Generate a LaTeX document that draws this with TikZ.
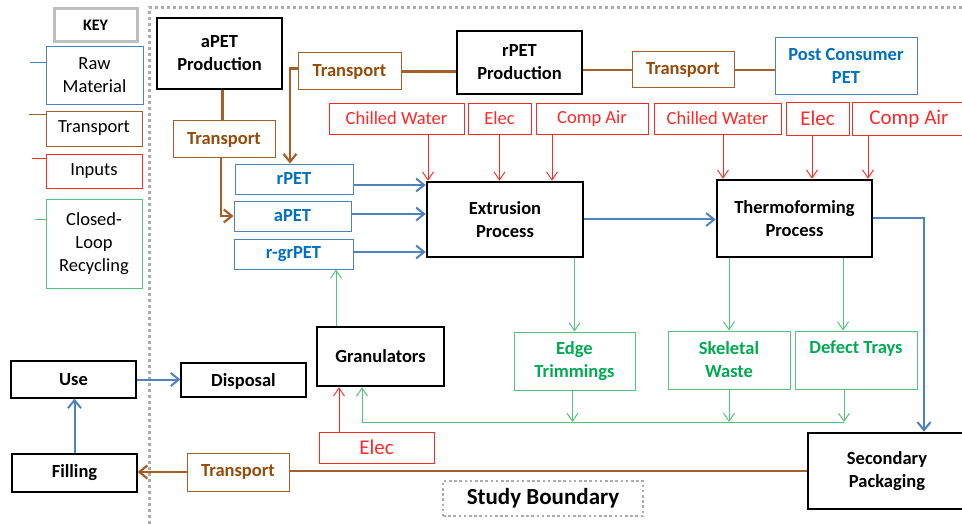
\documentclass[tikz,border=0pt]{standalone}
\usepackage{fontspec}
\setmainfont{Carlito}
\usetikzlibrary{arrows.meta}

\definecolor{rawblue}{RGB}{79,129,189}
\definecolor{rawtext}{RGB}{0,112,192}
\definecolor{trbrown}{RGB}{165,95,40}
\definecolor{trtext}{RGB}{150,75,10}
\definecolor{inred}{RGB}{255,40,40}
\definecolor{clgreen}{RGB}{85,195,125}
\definecolor{cltext}{RGB}{0,170,80}

\tikzset{
  flowbox/.style={draw, rectangle, align=center, inner sep=1pt},
  keybox/.style={flowbox, line width=0.9pt},
  rawbox/.style={flowbox, draw=rawblue, text=rawtext, font=\bfseries, line width=0.9pt},
  trbox/.style={flowbox, draw=trbrown, text=trtext, font=\bfseries, line width=1pt},
  inbox/.style={flowbox, draw=inred, text=inred, line width=0.9pt},
  clbox/.style={flowbox, draw=clgreen, text=cltext, font=\bfseries, line width=0.9pt},
  prodbox/.style={flowbox, font=\bfseries, line width=1.2pt},
  procbox/.style={flowbox, font=\bfseries, line width=2.6pt},
  rawarrow/.style={draw=rawblue, line width=2pt, -{Straight Barb[length=8pt,width=13pt]}},
  trlink/.style={draw=trbrown, line width=2.2pt},
  trarrow/.style={trlink, -{Straight Barb[length=8pt,width=13pt]}},
  inarrow/.style={draw=inred, line width=0.9pt, -{Straight Barb[length=8pt,width=11pt]}},
  clarrow/.style={draw=clgreen, line width=1pt, -{Straight Barb[length=8pt,width=11pt]}},
}

\begin{document}
\begin{tikzpicture}[x=1pt, y=-1pt]
  \useasboundingbox (0,0) rectangle (962,524);
  {\fontsize{18.5}{23}\selectfont

  % Study boundary
  \draw [gray!65, line width=3pt, dash pattern=on 3pt off 3pt] (149,524) -- (149,8) -- (962,8);%
  \node (study) at (543,498.5) [flowbox, draw=gray!65, line width=2.6pt, dash pattern=on 2.6pt off 2.6pt,
    font=\bfseries\fontsize{23}{26}\selectfont, minimum width=200pt, minimum height=35pt] {Study Boundary};%

  % Key
  \node (key) at (95.5,25.5) [flowbox, draw=gray!50, line width=3pt, font=\bfseries\fontsize{16}{18}\selectfont,
    minimum width=83pt, minimum height=33pt] {KEY};%
  \node (keyraw) at (94.5,75) [keybox, draw=rawblue, minimum width=97pt, minimum height=58pt] {Raw\\Material};%
  \node (keytr) at (94,128.5) [keybox, draw=trbrown, minimum width=96pt, minimum height=35pt] {Transport};%
  \node (keyin) at (94,171) [keybox, draw=inred, minimum width=96pt, minimum height=34pt] {Inputs};%
  \node (keycl) at (94,243.5) [keybox, draw=clgreen, minimum width=96pt, minimum height=89pt] {Closed-\\Loop\\Recycling};%
  \draw [rawblue, line width=0.9pt] ([yshift=13pt]keyraw.west) -- ++(-16,0);%
  \draw [trbrown, line width=0.9pt] ([yshift=14.5pt]keytr.west) -- ++(-17,0);%
  \draw [inred, line width=0.9pt] ([yshift=13pt]keyin.west) -- ++(-14,0);%
  \draw [clgreen, line width=0.9pt] ([yshift=24.5pt]keycl.west) -- ++(-11,0);%

  % Production and transport of the raw material
  \node (aprod) at (219.5,53.5) [prodbox, minimum width=125pt, minimum height=71pt] {aPET\\Production};%
  \node (trA) at (224,139.5) [trbox, minimum width=102pt, minimum height=37pt] {Transport};%
  \node (trB) at (349.5,71.5) [trbox, minimum width=103pt, minimum height=37pt] {Transport};%
  \node (rprod) at (519.5,62.5) [prodbox, minimum width=125pt, minimum height=63pt] {rPET\\Production};%
  \node (trC) at (683,70) [trbox, minimum width=102pt, minimum height=36pt] {Transport};%
  \node (pcpet) at (846,65.5) [rawbox, minimum width=142pt, minimum height=57pt] {Post Consumer\\PET};%

  % Raw material feeds
  \node (rpet) at (294,179) [rawbox, minimum width=118pt, minimum height=30pt] {rPET};%
  \node (apet) at (292.5,216) [rawbox, minimum width=117pt, minimum height=30pt] {aPET};%
  \node (rgpet) at (293.5,254) [rawbox, minimum width=119pt, minimum height=30pt] {r-grPET};%

  % Inputs
  \node (cwA) at (396.5,118.5) [inbox, minimum width=135pt, minimum height=31pt] {Chilled Water};%
  \node (elA) at (499.5,118.5) [inbox, minimum width=63pt, minimum height=31pt] {Elec};%
  \node (caA) at (592,118.5) [inbox, minimum width=112pt, minimum height=31pt] {Comp Air};%
  \node (cwB) at (717.5,118.5) [inbox, minimum width=127pt, minimum height=31pt] {Chilled Water};%
  \node (elB) at (817.5,118.5) [inbox, minimum width=63pt, minimum height=33pt, font=\fontsize{21}{24}\selectfont] {Elec};%
  \node (caB) at (909,118.5) [inbox, minimum width=114pt, minimum height=33pt, font=\fontsize{21}{24}\selectfont] {Comp Air};%
  \node (elC) at (376.5,447.5) [inbox, minimum width=115pt, minimum height=31pt, font=\fontsize{21}{24}\selectfont] {Elec};%

  % Processes
  \node (extr) at (505,219.5) [procbox, minimum width=156pt, minimum height=75pt] {Extrusion\\Process};%
  \node (thermo) at (794.5,218.5) [procbox, minimum width=155pt, minimum height=77pt] {Thermoforming\\Process};%
  \node (gran) at (380.5,356.5) [procbox, minimum width=127pt, minimum height=59pt] {Granulators};%
  \node (sec) at (887,471) [procbox, minimum width=158pt, minimum height=76pt] {Secondary\\Packaging};%

  % Closed-loop scrap
  \node (edge) at (574.5,361) [clbox, minimum width=121pt, minimum height=58pt] {Edge\\Trimmings};%
  \node (skel) at (729,360) [clbox, minimum width=122pt, minimum height=58pt] {Skeletal\\Waste};%
  \node (defect) at (856,360) [clbox, minimum width=122pt, minimum height=58pt] {Defect Trays\\\phantom{Ty}};%

  % Life after the study boundary
  \node (use) at (73.5,379.5) [prodbox, minimum width=125pt, minimum height=37pt] {Use};%
  \node (disp) at (243.5,380) [prodbox, minimum width=125pt, minimum height=34pt, text depth=-2pt] {Disposal};%
  \node (fill) at (74.5,473) [prodbox, minimum width=125pt, minimum height=38pt] {Filling};%
  \node (trD) at (238,472) [trbox, minimum width=102pt, minimum height=38pt] {Transport};%

  % Drawing transport lines
  \draw [trlink] ([xshift=3pt]aprod.south) -- ([xshift=3pt]aprod.south |- trA.north);%
  \draw [trarrow] ([xshift=-3pt]trA.south) |- (apet.west);%
  \draw [trarrow] ([yshift=3pt]trB.west) -| ([xshift=-4pt]rpet.north);%
  \draw [trlink] (trB.east) -- (trB.east -| rprod.west);%
  \draw [trlink] (trC.west -| rprod.east) -- (trC.west);%
  \draw [trlink] (trC.east) -- (trC.east -| pcpet.west);%
  \draw [trlink] (sec.west) -- (sec.west -| trD.east);%
  \draw [trarrow] (trD.west) -- (trD.west -| fill.east);%

  % Drawing input arrows
  \draw [inarrow] ([xshift=31.5pt]cwA.south) -- ([xshift=31.5pt]cwA.south |- extr.north);%
  \draw [inarrow] (elA.south) -- (elA.south |- extr.north);%
  \draw [inarrow] ([xshift=-40pt]caA.south) -- ([xshift=-40pt]caA.south |- extr.north);%
  \draw [inarrow] ([xshift=5.5pt]cwB.south) -- ([xshift=5.5pt]cwB.south |- thermo.north);%
  \draw [inarrow] ([xshift=-5.5pt]elB.south) -- ([xshift=-5.5pt]elB.south |- thermo.north);%
  \draw [inarrow] ([xshift=-41pt]caB.south) -- ([xshift=-41pt]caB.south |- thermo.north);%
  \draw [inarrow] ([xshift=-37.5pt]elC.north) -- ([xshift=-37.5pt]elC.north |- gran.south);%

  % Drawing material flow
  \draw [rawarrow] ([yshift=-6pt]rpet.east) -- ([yshift=-6pt]rpet.east -| extr.west);%
  \draw [rawarrow] ([yshift=2pt]apet.east) -- ([yshift=2pt]apet.east -| extr.west);%
  \draw [rawarrow] ([yshift=2pt]rgpet.east) -- ([yshift=2pt]rgpet.east -| extr.west);%
  \draw [rawarrow] (extr.east) -- (extr.east -| thermo.west);%
  \draw [rawarrow] (thermo.east) -| ([xshift=37pt]sec.north);%
  \draw [rawarrow] (use.east) -- (use.east -| disp.west);%
  \draw [rawarrow] (fill.north) -- (fill.north |- use.south);%

  % Drawing closed loop
  \coordinate (loopR) at (844,422);%
  \coordinate (loopL) at (362,422);%
  \draw [clarrow] (edge.north |- extr.south) -- (edge.north);%
  \draw [clarrow] (skel.north |- thermo.south) -- (skel.north);%
  \draw [clarrow] ([xshift=-13pt]defect.north |- thermo.south) -- ([xshift=-13pt]defect.north);%
  \draw [clarrow] ([xshift=-2pt]edge.south) -- ([xshift=-2pt]edge.south |- loopR);%
  \draw [clarrow] (skel.south) -- (skel.south |- loopR);%
  \draw [clarrow] (defect.south -| loopR) -- (loopR);%
  \draw [clarrow] (loopR) -- (loopL) -- (loopL |- gran.south);%
  \draw [clarrow] ([xshift=-44.5pt]gran.north) -- ([xshift=-44.5pt]gran.north |- rgpet.south);%
  }
\end{tikzpicture}
\end{document}
